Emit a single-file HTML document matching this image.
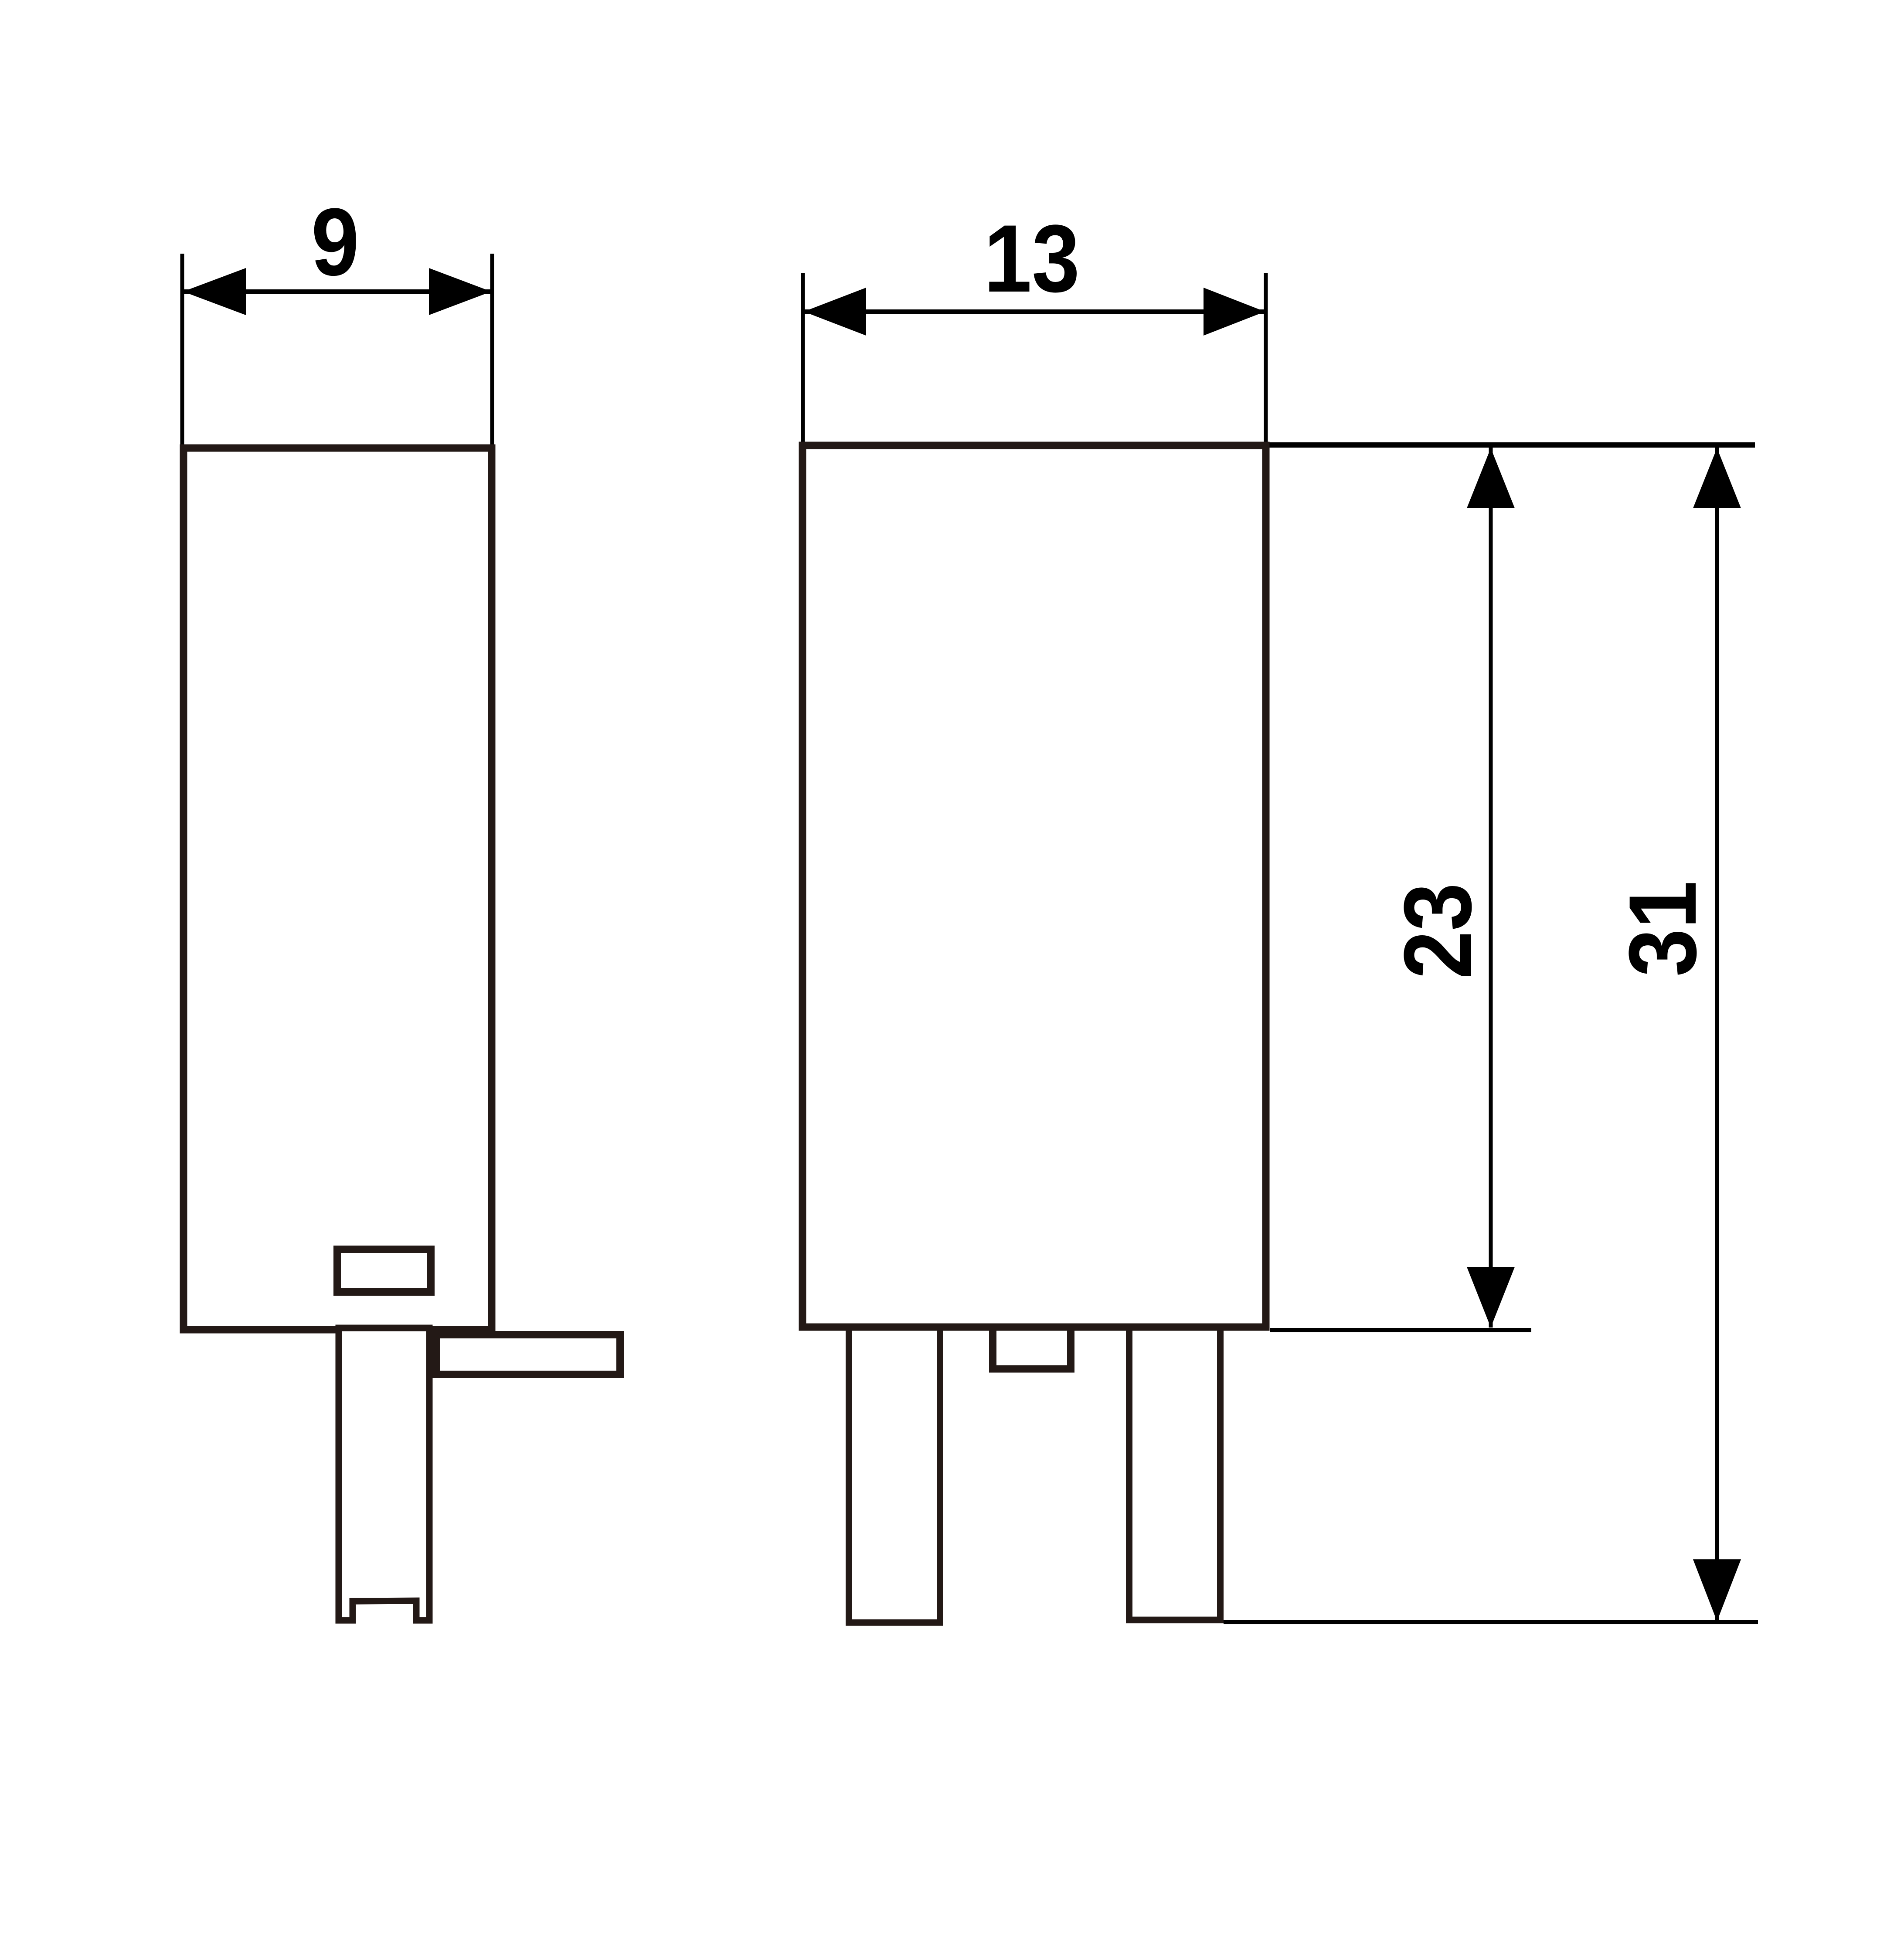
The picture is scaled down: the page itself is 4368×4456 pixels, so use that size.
<!DOCTYPE html>
<html><head><meta charset="utf-8"><style>
html,body{margin:0;padding:0;background:#fff;}
svg{display:block;}
.t{font-family:"Liberation Sans",Arial,sans-serif;font-weight:bold;font-size:220px;fill:#000;}
</style></head><body>
<svg xmlns="http://www.w3.org/2000/svg" width="4368" height="4456" viewBox="0 0 4368 4456">
<rect width="4368" height="4456" fill="#fff"/>
<text class="t" transform="translate(769,631) scale(0.9,1)" text-anchor="middle">9</text>
<text class="t" transform="translate(2367,669) scale(0.9,1)" text-anchor="middle">13</text>
<text class="t" transform="translate(3374,2136) rotate(-90) scale(0.9,1)" text-anchor="middle">23</text>
<text class="t" transform="translate(3890,2131) rotate(-90) scale(0.9,1)" text-anchor="middle">31</text>
<g stroke="#000" fill="none">
<line x1="418" y1="582" x2="418" y2="1020" stroke-width="9"/>
<line x1="1129" y1="582" x2="1129" y2="1020" stroke-width="9"/>
<line x1="418" y1="669" x2="1129" y2="669" stroke-width="10"/>
<line x1="1842" y1="626" x2="1842" y2="1015" stroke-width="9"/>
<line x1="2904" y1="626" x2="2904" y2="1015" stroke-width="9"/>
<line x1="1842" y1="715" x2="2904" y2="715" stroke-width="10"/>
<line x1="2904" y1="1021" x2="4026" y2="1021" stroke-width="12"/>
<line x1="2913" y1="3052" x2="3513" y2="3052" stroke-width="10"/>
<line x1="2807" y1="3722" x2="4033" y2="3722" stroke-width="10"/>
<line x1="3420" y1="1027" x2="3420" y2="3046" stroke-width="9"/>
<line x1="3939" y1="1027" x2="3939" y2="3720" stroke-width="9"/>
</g>
<g fill="#000">
<polygon points="420,669 564,615 564,723"/>
<polygon points="1127,669 984,615 984,723"/>
<polygon points="1844,715 1987,660 1987,770"/>
<polygon points="2902,715 2761,660 2761,770"/>
<polygon points="3420,1028 3365,1166 3475,1166"/>
<polygon points="3420,3046 3365,2907 3475,2907"/>
<polygon points="3939,1028 3884,1166 3994,1166"/>
<polygon points="3939,3720 3884,3578 3994,3578"/>
</g>
<g stroke="#231916" fill="none">
<rect x="421" y="1028" width="707" height="2023" stroke-width="17"/>
<rect x="773.5" y="2866.5" width="215" height="98" stroke-width="17"/>
<path d="M777,3047 L985,3047 L985,3718 L955,3718 L955,3673 L809,3674 L809,3718 L777,3718 Z" stroke-width="15" fill="#fff"/>
<rect x="1000.5" y="3062.5" width="422" height="91" stroke-width="17" fill="#fff"/>
<rect x="1841" y="1022" width="1063" height="2023" stroke-width="17"/>
<rect x="1947.5" y="3045" width="209" height="678" stroke-width="15"/>
<rect x="2277.5" y="3045" width="179" height="96" stroke-width="17"/>
<rect x="2590.5" y="3045" width="209" height="672" stroke-width="15"/>
</g>
</svg>
</body></html>
